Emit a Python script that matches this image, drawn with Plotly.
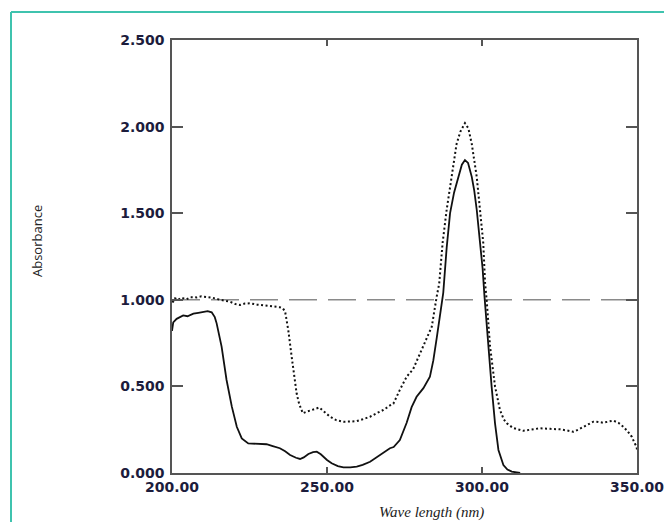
import plotly.graph_objects as go

# ---- data ----
solid_wl = [200.0, 200.4, 201.5, 202.5, 203.6, 205.0, 206.9, 208.5, 210.1, 211.5, 212.8, 213.8, 214.4,
            215.2, 216.0, 217.6, 219.3, 220.9, 222.5, 224.6, 226.5, 228.0, 230.5, 232.5, 234.8,
            236.5, 238.1, 240.0, 241.3, 242.5, 244.0, 245.5, 246.7, 248.0, 248.8, 250.0, 251.5,
            253.5, 255.3, 257.5, 259.6, 261.5, 263.9, 266.0, 268.2, 270.3, 271.5, 273.5, 275.7,
            277.3, 278.9, 281.1, 283.2, 284.3, 285.4, 286.5, 287.5, 288.6, 289.7, 291.0, 292.4,
            293.5, 294.5, 295.5, 296.7, 297.5, 298.3, 299.4, 300.2, 300.8, 301.4, 302.0, 303.1,
            304.2, 305.3, 306.9, 308.2, 309.6, 312.3]
solid_abs = [0.82, 0.87, 0.89, 0.90, 0.91, 0.905, 0.92, 0.925, 0.93, 0.935, 0.928, 0.90, 0.864,
             0.80, 0.73, 0.537, 0.383, 0.267, 0.20, 0.171, 0.168, 0.166, 0.166, 0.155, 0.143,
             0.125, 0.104, 0.088, 0.081, 0.09, 0.11, 0.12, 0.123, 0.108, 0.094, 0.075, 0.056,
             0.04, 0.033, 0.032, 0.037, 0.047, 0.065, 0.09, 0.114, 0.143, 0.15, 0.19, 0.29,
             0.38, 0.44, 0.49, 0.556, 0.65, 0.78, 0.92, 1.04, 1.30, 1.50, 1.62, 1.71,
             1.78, 1.807, 1.79, 1.71, 1.63, 1.52, 1.33, 1.18, 1.02, 0.88, 0.73, 0.50,
             0.287, 0.133, 0.046, 0.02, 0.008, 0.0]

dotted_wl = [200.0, 200.4, 201.0, 202.0, 203.0, 204.7, 206.0, 208.0, 209.5, 211.2, 213.0, 214.9,
             216.8, 218.7, 220.5, 221.9, 223.5, 225.2, 227.5, 230.5, 232.5, 234.8, 235.8, 236.5,
             237.5, 238.6, 239.7, 240.2, 241.0, 242.2, 243.4, 245.0, 246.7, 247.5, 249.0, 251.0,
             253.0, 255.3, 257.5, 259.6, 261.5, 263.9, 266.0, 268.2, 270.3, 271.4, 273.5, 275.7,
             277.8, 280.0, 282.2, 283.8, 285.4, 286.2, 287.3, 288.6, 290.2, 291.8, 293.0, 294.5,
             295.6, 296.7, 298.3, 299.4, 300.4, 301.0, 301.5, 302.6, 304.2, 305.8, 307.0, 308.0,
             310.0, 313.3, 316.0, 318.7, 322.0, 325.2, 327.5, 329.5, 331.0, 332.7, 334.5, 335.9,
             337.5, 339.1, 340.8, 342.4, 344.0, 345.6, 347.0, 348.3, 349.3, 349.9, 350.0]
dotted_abs = [0.99, 0.989, 1.009, 1.0, 1.012, 1.003, 1.015, 1.014, 1.02, 1.018, 1.012, 1.003,
              0.995, 0.989, 0.975, 0.97, 0.978, 0.98, 0.972, 0.964, 0.962, 0.957, 0.95, 0.931,
              0.826, 0.672, 0.537, 0.46, 0.40, 0.345, 0.354, 0.365, 0.375, 0.378, 0.355, 0.325,
              0.305, 0.296, 0.297, 0.30, 0.31, 0.325, 0.345, 0.364, 0.39, 0.40, 0.48, 0.556,
              0.60, 0.69, 0.77, 0.845, 1.02, 1.095, 1.33, 1.52, 1.71, 1.90, 1.97, 2.02,
              1.99, 1.90, 1.71, 1.52, 1.33, 1.095, 1.00, 0.73, 0.50, 0.364, 0.31, 0.287,
              0.26, 0.244, 0.252, 0.258, 0.255, 0.252, 0.245, 0.238, 0.25, 0.267, 0.285, 0.296,
              0.295, 0.29, 0.297, 0.302, 0.29, 0.267, 0.24, 0.21, 0.17, 0.152, 0.13]

ref_wl = [200.0, 350.0]
ref_abs = [1.0, 1.0]

x_ticks = [200, 250, 300, 350]
y_ticks = [0.0, 0.5, 1.0, 1.5, 2.0, 2.5]

x_title = "Wave length (nm)"
y_title = "Absorbance"

# ---- layout geometry (pixels) ----
W, H = 664, 522
L, R, T, B = 172, 637, 40, 473
pw, ph = R - L, B - T


def px(x):
    return (x - L) / pw


def py(y):
    return (B - y) / ph


fig = go.Figure()
fig.add_trace(go.Scatter(x=ref_wl, y=ref_abs, mode="lines",
                         line=dict(color="#8a8a8a", width=1.5, dash="28px,11px"),
                         showlegend=False, hoverinfo="skip"))
fig.add_trace(go.Scatter(x=dotted_wl, y=dotted_abs, mode="lines",
                         line=dict(color="#111111", width=2, dash="2px,2.5px"),
                         showlegend=False))
fig.add_trace(go.Scatter(x=solid_wl, y=solid_abs, mode="lines",
                         line=dict(color="#111111", width=1.8),
                         showlegend=False))

tick_font = dict(family="DejaVu Sans", size=14, color="#1c1c3c", weight="bold")

fig.update_xaxes(range=[200, 350], tickvals=x_ticks, ticktext=[f"{v:.2f}" for v in x_ticks],
                 ticks="inside", ticklen=6, tickwidth=1.5, tickcolor="#555555",
                 showline=True, linecolor="#555555", linewidth=1.5, mirror="ticks",
                 showgrid=False, zeroline=False, tickfont=tick_font,
                 ticklabeloverflow="allow")
fig.update_yaxes(range=[0, 2.5], tickvals=y_ticks, ticktext=[f"{v:.3f}" for v in y_ticks],
                 ticks="inside", ticklen=11, tickwidth=1.5, tickcolor="#555555",
                 showline=True, linecolor="#555555", linewidth=1.5, mirror="ticks",
                 showgrid=False, zeroline=False, tickfont=tick_font,
                 ticklabelstandoff=3, ticklabeloverflow="allow")

teal = "#3fc3ae"
fig.update_layout(
    width=W, height=H,
    margin=dict(l=L, r=W - R, t=T, b=H - B, autoexpand=False),
    paper_bgcolor="white", plot_bgcolor="white",
    shapes=[
        dict(type="line", xref="paper", yref="paper", x0=px(11), x1=px(W + 5), y0=py(12), y1=py(12),
             line=dict(color=teal, width=2)),
        dict(type="line", xref="paper", yref="paper", x0=px(11), x1=px(11), y0=py(12), y1=py(H + 5),
             line=dict(color=teal, width=2)),
    ],
    annotations=[
        dict(text=x_title, xref="paper", yref="paper", x=px(431.5), y=py(512),
             xanchor="center", yanchor="middle", showarrow=False,
             font=dict(family="Liberation Serif", size=15, color="#222222", style="italic")),
        dict(text=y_title, xref="paper", yref="paper", x=px(37), y=py(241),
             xanchor="center", yanchor="middle", showarrow=False, textangle=-90,
             font=dict(family="Open Sans", size=13, color="#222222")),
    ],
)

fig.write_html("out.html")
